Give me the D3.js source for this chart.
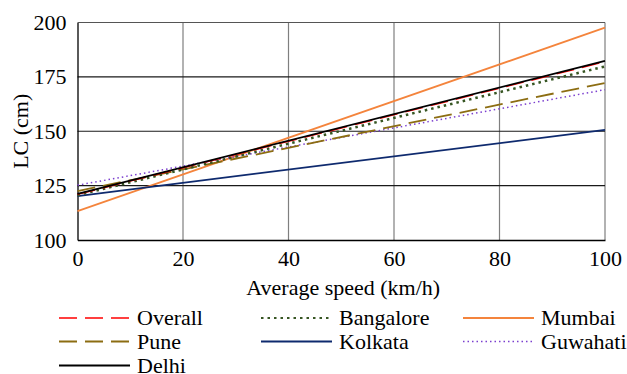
<!DOCTYPE html>
<html>
<head>
<meta charset="utf-8">
<script src="https://cdn.jsdelivr.net/npm/d3@7"></script>
</head>
<body style="margin:0">
<svg id="chart" width="627" height="374"></svg>
<script>
// speed endpoints (km/h) and fitted LC values (cm) per city
const speeds = [0, 100];
const seriesNames = ["Overall", "Bangalore", "Mumbai", "Pune", "Kolkata", "Guwahati", "Delhi"];
const overall = [121.0, 182.0];
const bangalore = [120.6, 179.8];
const mumbai = [113.3, 197.6];
const pune = [122.5, 172.2];
const kolkata = [120.2, 150.6];
const guwahati = [125.2, 169.1];
const delhi = [121.2, 182.3];
const xTicks = [0, 20, 40, 60, 80, 100];
const yTicks = [100, 125, 150, 175, 200];

const styles = {
    Overall:   { color: "#ff0000", dash: "18,8", width: 1.5 },
    Bangalore: { color: "#375623", dash: "2.5,4", width: 2.5 },
    Mumbai:    { color: "#f4843c", dash: null, width: 1.8 },
    Pune:      { color: "#8c6d12", dash: "18,8", width: 1.8 },
    Kolkata:   { color: "#0e2a6e", dash: null, width: 1.8 },
    Guwahati:  { color: "#7b3fcf", dash: "1.5,3", width: 1.5 },
    Delhi:     { color: "#000000", dash: null, width: 1.8 }
};
const values = { Overall: overall, Bangalore: bangalore, Mumbai: mumbai, Pune: pune,
                 Kolkata: kolkata, Guwahati: guwahati, Delhi: delhi };

const FONT = '"Liberation Serif", monospace';
const svg = d3.select("#chart");
const plot = { left: 77.5, right: 605, top: 22.5, bottom: 240 };

const x = d3.scaleLinear().domain([0, 100]).range([plot.left, plot.right]);
const y = d3.scaleLinear().domain([100, 200]).range([plot.bottom, plot.top]);

// grid
svg.append("g")
    .selectAll("line")
    .data(xTicks.slice(1))
    .join("line")
    .attr("x1", d => x(d)).attr("x2", d => x(d))
    .attr("y1", plot.top).attr("y2", plot.bottom)
    .attr("stroke", "#7f7f7f").attr("stroke-width", 1.2);

svg.append("g")
    .selectAll("line")
    .data(yTicks.slice(1))
    .join("line")
    .attr("x1", plot.left).attr("x2", plot.right)
    .attr("y1", d => y(d)).attr("y2", d => y(d))
    .attr("stroke", d => d === 200 ? "#555" : "#1a1a1a").attr("stroke-width", 1.2);

// axes
const xAxis = svg.append("g")
    .attr("transform", `translate(0,${plot.bottom})`)
    .call(d3.axisBottom(x).tickValues(xTicks).tickSize(0).tickPadding(10));
const yAxis = svg.append("g")
    .attr("transform", `translate(${plot.left},0)`)
    .call(d3.axisLeft(y).tickValues(yTicks).tickSize(0).tickPadding(11));

[xAxis, yAxis].forEach(a => {
    a.attr("font-family", null).attr("font-size", null);
    a.select(".domain").attr("stroke", "#000").attr("stroke-width", 1.3);
    a.selectAll("text")
        .style("font-family", FONT)
        .attr("font-size", 22)
        .attr("fill", "#000");
});

svg.append("text")
    .attr("x", (plot.left + plot.right) / 2 + 2).attr("y", 295)
    .attr("text-anchor", "middle")
    .style("font-family", FONT).attr("font-size", 22)
    .text("Average speed (km/h)");

svg.append("text")
    .attr("transform", `translate(28,${(plot.top + plot.bottom) / 2}) rotate(-90)`)
    .attr("text-anchor", "middle")
    .style("font-family", FONT).attr("font-size", 22)
    .text("LC (cm)");

// lines
const line = d3.line()
    .x((d, i) => x(speeds[i]))
    .y(d => y(d));

const drawOrder = ["Mumbai", "Kolkata", "Guwahati", "Pune", "Bangalore", "Overall", "Delhi"];
svg.append("g")
    .selectAll("path")
    .data(drawOrder)
    .join("path")
    .attr("d", name => line(values[name]))
    .attr("fill", "none")
    .attr("stroke", name => styles[name].color)
    .attr("stroke-width", name => styles[name].width)
    .attr("stroke-dasharray", name => styles[name].dash);

// legend
const legendCols = [59, 261, 463];
const legendRows = [318, 341.5, 365.5];
const legend = svg.append("g")
    .selectAll("g")
    .data(seriesNames)
    .join("g")
    .attr("transform", (d, i) => `translate(${legendCols[i % 3]},${legendRows[Math.floor(i / 3)]})`);

legend.append("line")
    .attr("x1", 0).attr("x2", 71)
    .attr("y1", 0).attr("y2", 0)
    .attr("stroke", d => styles[d].color)
    .attr("stroke-width", d => Math.min(styles[d].width, 2))
    .attr("stroke-dasharray", d => styles[d].dash);

legend.append("text")
    .attr("x", 78).attr("y", 7)
    .style("font-family", FONT).attr("font-size", 22)
    .text(d => d);
</script>
</body>
</html>
